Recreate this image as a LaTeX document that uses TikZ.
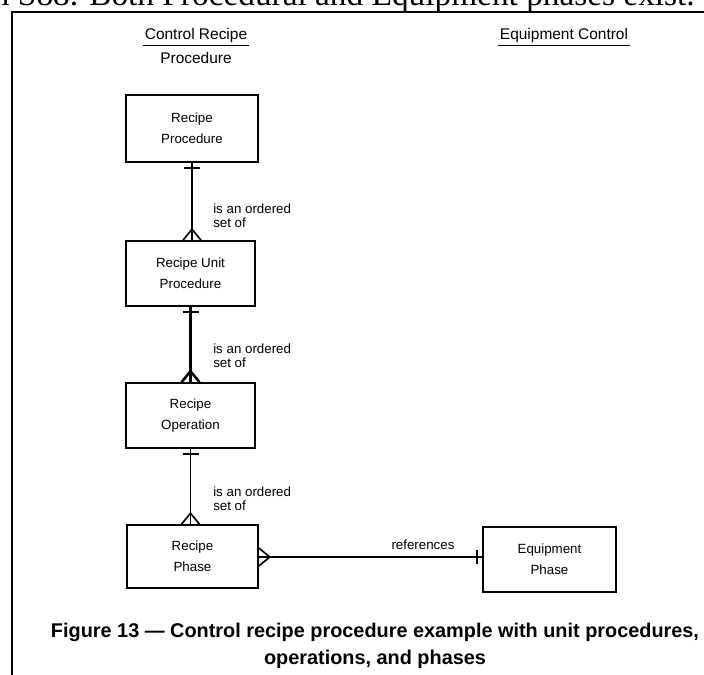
\documentclass[tikz,border=0pt]{standalone}
\usepackage{fontspec}
\setmainfont{Liberation Sans}
\newfontfamily\bodyserif{Liberation Serif}
\usetikzlibrary{calc}
\begin{document}
\begin{tikzpicture}[x=0.75pt,y=-0.75pt,
  entity/.style={draw, line width=1.2pt, align=center, inner sep=0pt,
    font=\fontsize{10}{15.5}\selectfont},
  rel/.style={line width=1.25pt},
  relthick/.style={line width=1.9pt},
  lbl/.style={align=left, inner sep=0pt, anchor=west,
    font=\fontsize{10}{10.5}\selectfont},
  heading/.style={inner sep=1.2pt, font=\fontsize{11.6}{14}\selectfont},
  caption/.style={align=center, inner sep=0pt,
    font=\bfseries\fontsize{14.9}{20}\selectfont}]
\clip (0,0) rectangle (704,675);

% running text of the page above the figure frame
\node[anchor=base east, inner sep=0pt, font=\bodyserif\fontsize{25}{30}\selectfont]
  (pagetext) at (695,5) {m S88. Both Procedural and Equipment phases exist.};

% figure frame
\draw[line width=1.6pt] (12,675) -- (12,12) -- (704,12);

% column headings
\node[heading] (hcr) at (196,36) {Control Recipe};
\draw[line width=0.8pt] (hcr.south west) -- (hcr.south east);
\node[heading] (hproc) at (196,58) {Procedure};
\node[heading] (hec) at (564,36) {Equipment Control};
\draw[line width=0.8pt] (hec.south west) -- (hec.south east);

% entities
\node[entity, minimum width=99pt, minimum height=50.25pt] (rp) at (192,128.5) {Recipe\\Procedure};
\node[entity, minimum width=96.75pt, minimum height=48.75pt] (rup) at (190.5,273.5) {Recipe Unit\\Procedure};
\node[entity, minimum width=96.75pt, minimum height=48.75pt] (ro) at (190.5,415.5) {Recipe\\Operation};
\node[entity, minimum width=98.25pt, minimum height=47.25pt] (rph) at (192.5,556.5) {Recipe\\Phase};
\node[entity, minimum width=99.75pt, minimum height=48.75pt] (ep) at (549.5,559.5) {Equipment\\Phase};

% one-to-many links: bar at the "one" end, crow's foot at the "many" end
\newcommand\orderedlink[3]{%
  \coordinate (#1-top) at ($(#1.south)$);
  \coordinate (#1-bot) at (#1.south |- #2.north);
  \draw[#3] (#1-top) -- (#1-bot);
  \draw[#3] ($(#1-top)+(-8,5)$) -- ($(#1-top)+(8,5)$);
  \draw[#3] ($(#1-bot)+(-9,0)$) -- ($(#1-bot)+(0,-11)$) -- ($(#1-bot)+(9,0)$);
}
\orderedlink{rp}{rup}{rel}
\orderedlink{rup}{ro}{relthick}
\orderedlink{ro}{rph}{rel}

\node[lbl] (l1) at (213,216) {is an ordered\\set of};
\node[lbl] (l2) at (213,356) {is an ordered\\set of};
\node[lbl] (l3) at (213,498.5) {is an ordered\\set of};

% recipe phase references equipment phase
\coordinate (refl) at (rph.east |- 0,557);
\coordinate (refr) at (ep.west |- 0,557);
\draw[rel] (refl) -- (refr);
\draw[rel] ($(refl)+(0,-9)$) -- ($(refl)+(11,0)$) -- ($(refl)+(0,9)$);
\draw[rel] ($(refr)+(-5,-7)$) -- ($(refr)+(-5,7)$);
\node[inner sep=0pt, font=\fontsize{10}{12}\selectfont] (refs) at (423,545) {references};

% caption
\node[caption] (cap) at (375,646) {Figure 13 — Control recipe procedure example with unit procedures,\\operations, and phases};
\end{tikzpicture}
\end{document}
